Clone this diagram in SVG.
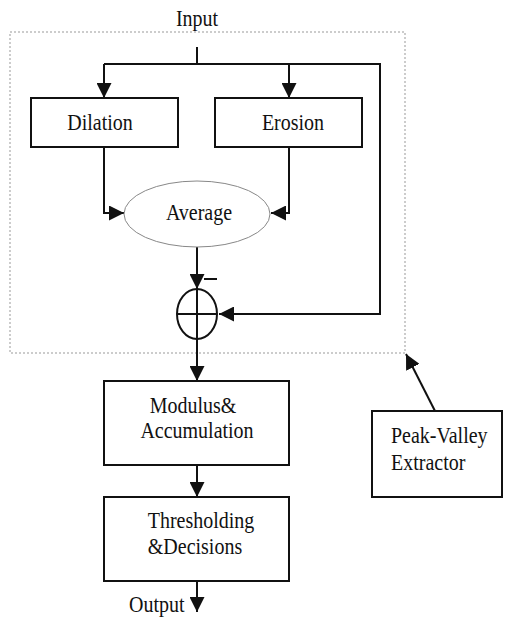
<svg xmlns="http://www.w3.org/2000/svg" width="514" height="619" viewBox="0 0 514 619">
<style>
.t{font-family:"Liberation Serif","Times New Roman",serif;font-size:20px;fill:#111}
.c{text-anchor:middle}
.box{fill:#fff;stroke:#111;stroke-width:2}
.ln{fill:none;stroke:#111;stroke-width:2}
</style>
<defs>
<marker id="ah" markerUnits="userSpaceOnUse" markerWidth="15" markerHeight="15" refX="15" refY="7.5" orient="auto">
<path d="M0,0 L15,7.5 L0,15 z" fill="#111"/>
</marker>
</defs>
<rect x="10" y="32" width="395" height="321" fill="none" stroke="#999" stroke-width="1" stroke-dasharray="2,2"/>
<g id="connectors">
<path class="ln" d="M197,47 V64"/>
<path class="ln" d="M104,64 H380 V314 H219" marker-end="url(#ah)"/>
<path class="ln" d="M104,64 V98" marker-end="url(#ah)"/>
<path class="ln" d="M289,64 V98" marker-end="url(#ah)"/>
<path class="ln" d="M104,147 V213 H124" marker-end="url(#ah)"/>
<path class="ln" d="M289,147 V213 H271" marker-end="url(#ah)"/>
<path class="ln" d="M197,247 V289" marker-end="url(#ah)"/>
<path class="ln" d="M197,339 V381" marker-end="url(#ah)"/>
<path class="ln" d="M197,465 V497" marker-end="url(#ah)"/>
<path class="ln" d="M197,581 V612" marker-end="url(#ah)"/>
<path class="ln" d="M435,411 L406,354" marker-end="url(#ah)"/>
</g>
<g id="input"><text class="t c" transform="translate(197,26) scale(1,1.18)">Input</text></g>
<g id="dilation">
<rect class="box" x="31" y="98" width="147" height="49"/>
<text class="t c" transform="translate(100,130) scale(1,1.18)">Dilation</text>
</g>
<g id="erosion">
<rect class="box" x="215" y="98" width="147" height="49"/>
<text class="t c" transform="translate(293,130) scale(1,1.18)">Erosion</text>
</g>
<g id="average">
<ellipse cx="197" cy="214" rx="73" ry="33" fill="#fff" stroke="#888" stroke-width="1"/>
<text class="t c" transform="translate(199,220) scale(1,1.18)">Average</text>
</g>
<g id="sum">
<ellipse cx="197" cy="314" rx="20" ry="25" fill="none" stroke="#111" stroke-width="2"/>
<path class="ln" d="M177,314 H217 M197,289 V339"/>
<path class="ln" d="M204,279 H217"/>
</g>
<g id="modulus">
<rect class="box" x="104" y="381" width="185" height="84"/>
<text class="t c" transform="translate(193,413) scale(1,1.18)">Modulus&amp;</text>
<text class="t c" transform="translate(197,438) scale(1,1.18)">Accumulation</text>
</g>
<g id="thresholding">
<rect class="box" x="104" y="497" width="185" height="84"/>
<text class="t c" transform="translate(201,528) scale(1,1.18)">Thresholding</text>
<text class="t c" transform="translate(195,554) scale(1,1.18)">&amp;Decisions</text>
</g>
<g id="output"><text class="t" transform="translate(129,612) scale(1,1.12)">Output</text></g>
<g id="peakvalley">
<rect class="box" x="372" y="411" width="130" height="86"/>
<text class="t" transform="translate(391,443) scale(1,1.18)">Peak-Valley</text>
<text class="t" transform="translate(391,470) scale(1,1.18)">Extractor</text>
</g>
</svg>
